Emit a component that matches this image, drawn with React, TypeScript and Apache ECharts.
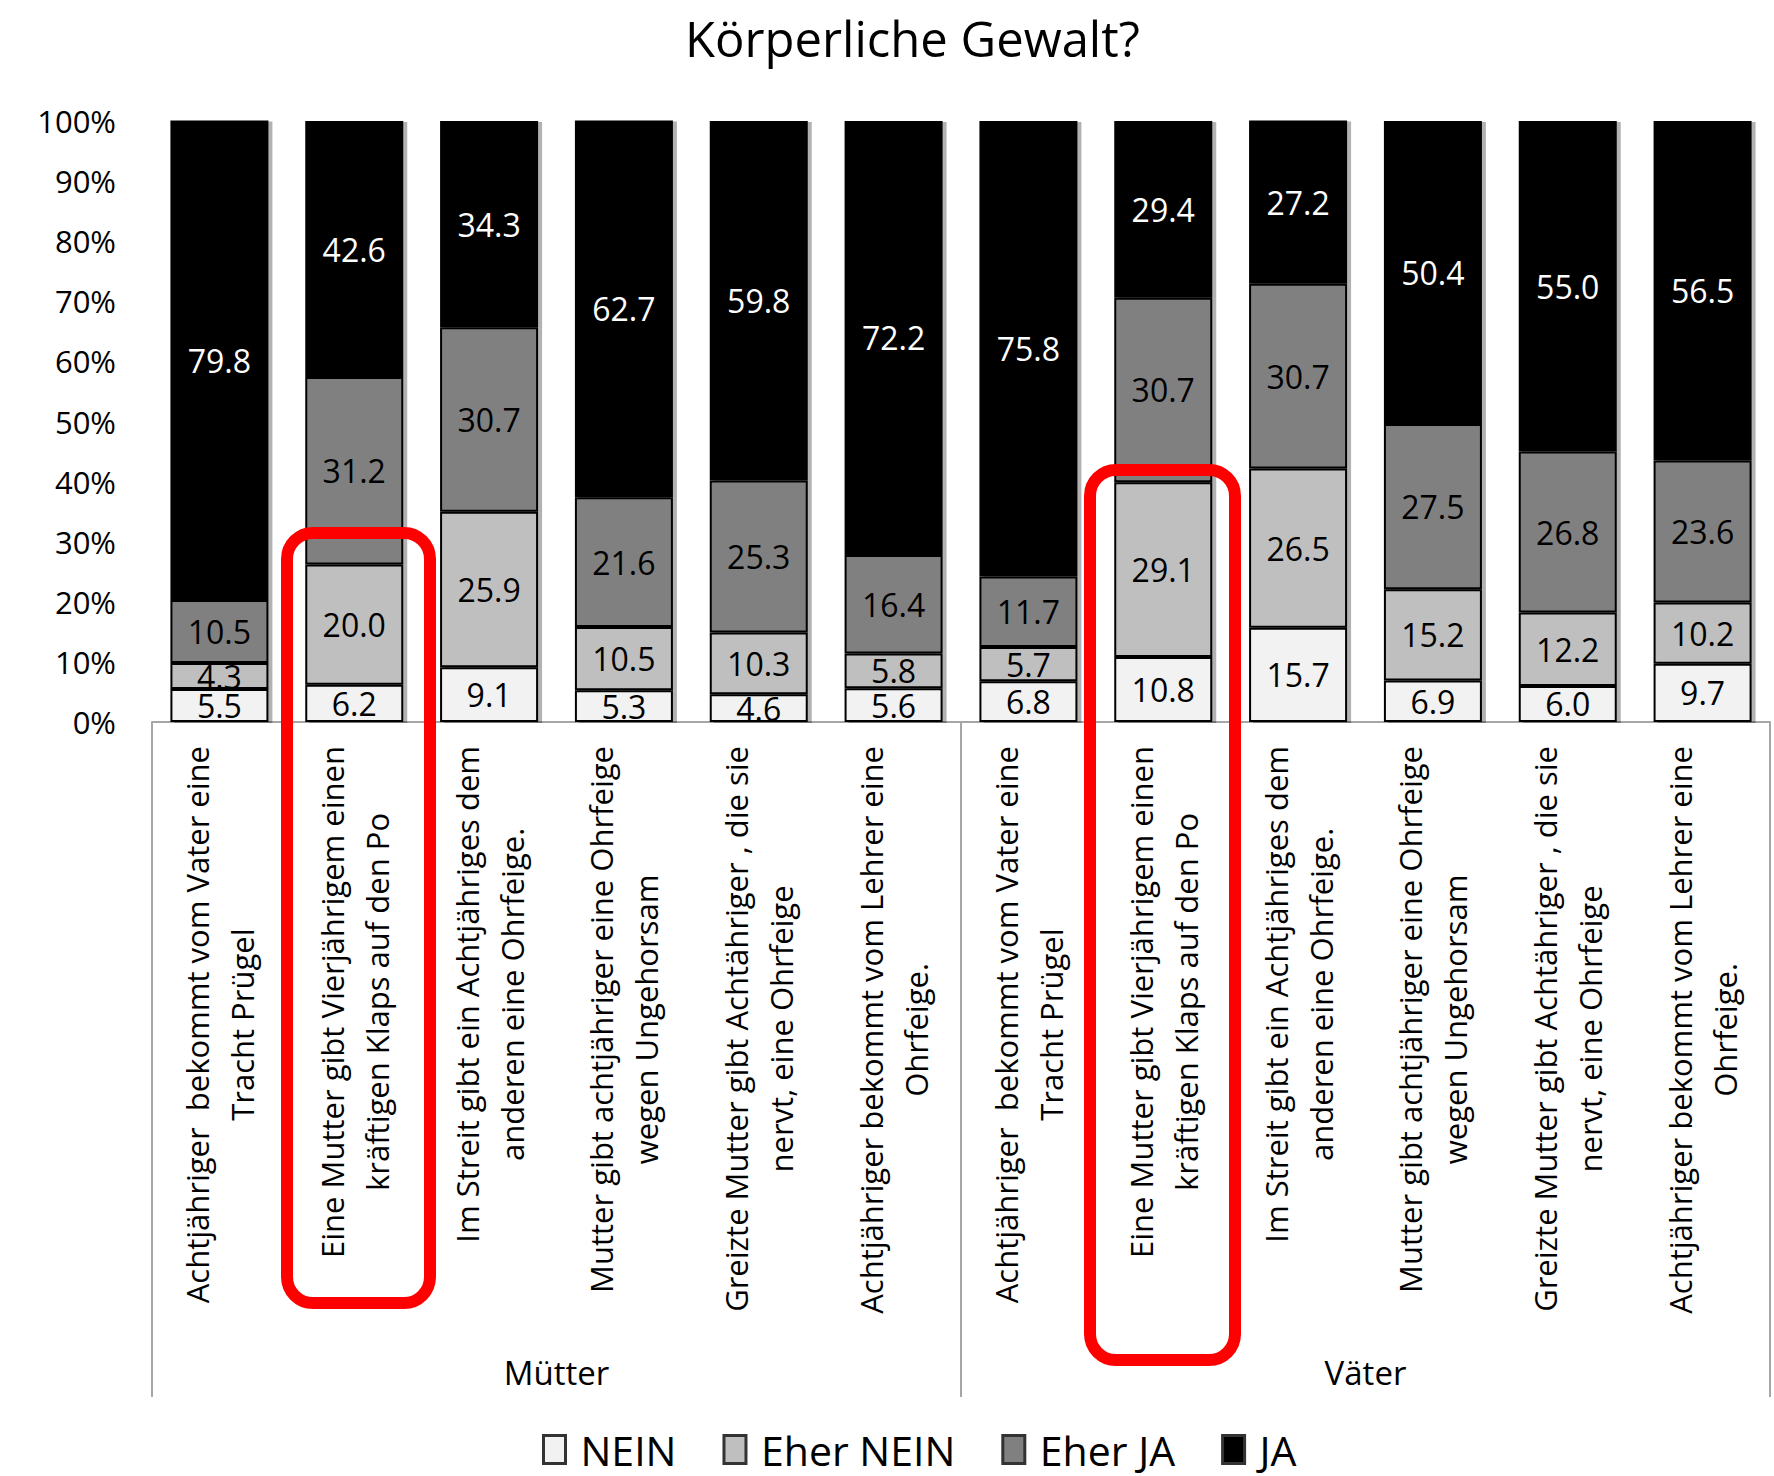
import React, { useEffect, useRef } from "react";
import * as echarts from "echarts";

const title = "Körperliche Gewalt?";
const itemLabels = [
  "Achtjähriger  bekommt vom Vater eine\nTracht Prügel",
  "Eine Mutter gibt Vierjährigem einen\nkräftigen Klaps auf den Po",
  "Im Streit gibt ein Achtjähriges dem\nanderen eine Ohrfeige.",
  "Mutter gibt achtjähriger eine Ohrfeige\nwegen Ungehorsam",
  "Greizte Mutter gibt Achtähriger , die sie\nnervt, eine Ohrfeige",
  "Achtjähriger bekommt vom Lehrer eine\nOhrfeige.",
];
const groups = ["Mütter", "Väter"];
const categories = [...itemLabels, ...itemLabels];

const seriesNames = ["NEIN", "Eher NEIN", "Eher JA", "JA"];
const nein = [5.5, 6.2, 9.1, 5.3, 4.6, 5.6, 6.8, 10.8, 15.7, 6.9, 6.0, 9.7];
const eherNein = [4.3, 20.0, 25.9, 10.5, 10.3, 5.8, 5.7, 29.1, 26.5, 15.2, 12.2, 10.2];
const eherJa = [10.5, 31.2, 30.7, 21.6, 25.3, 16.4, 11.7, 30.7, 30.7, 27.5, 26.8, 23.6];
const ja = [79.8, 42.6, 34.3, 62.7, 59.8, 72.2, 75.8, 29.4, 27.2, 50.4, 55.0, 56.5];
const seriesValues = [nein, eherNein, eherJa, ja];
const seriesColors = ["#f2f2f2", "#bfbfbf", "#808080", "#000000"];
const labelColors = ["#000", "#000", "#000", "#fff"];

const FONT = "Open Sans";

export default function App() {
  const ref = useRef<HTMLDivElement>(null);
  useEffect(() => {
    if (!ref.current) return;
    const chart = echarts.init(ref.current, undefined, { renderer: "svg" });
    chart.setOption({
      animation: false,
      backgroundColor: "#ffffff",
      textStyle: { fontFamily: FONT },
      title: {
        text: title,
        left: 680,
        top: 8,
        textStyle: { fontFamily: FONT, fontSize: 49, fontWeight: "normal", color: "#000" },
      },
      legend: {
        data: seriesNames,
        left: 537,
        top: 1424,
        icon: "rect",
        itemWidth: 22,
        itemHeight: 28,
        itemGap: 46,
        itemStyle: { borderColor: "#333", borderWidth: 3 },
        textStyle: {
          fontFamily: FONT,
          fontSize: 41,
          lineHeight: 40,
          color: "#000",
          padding: [0, 0, 0, 10],
        },
      },
      grid: { left: 152, right: 4, top: 121, bottom: 754, containLabel: false },
      xAxis: [
        {
          type: "category",
          data: categories,
          axisLine: { show: true, lineStyle: { color: "#a6a6a6", width: 2 } },
          axisTick: { show: false },
          axisLabel: {
            interval: 0,
            rotate: 90,
            margin: 24,
            color: "#000",
            formatter: (v: string) => v.split("\n").map((l) => `{c|${l}}`).join("\n"),
            rich: {
              c: { align: "center", fontFamily: FONT, fontSize: 31, lineHeight: 45, color: "#000" },
            },
          },
        },
        {
          type: "category",
          data: groups,
          position: "bottom",
          axisLine: { show: false },
          axisTick: { show: true, length: 675, interval: 0, lineStyle: { color: "#a6a6a6", width: 2 } },
          axisLabel: { margin: 634, color: "#000", fontFamily: FONT, fontSize: 33 },
        },
      ],
      yAxis: {
        type: "value",
        min: 0,
        max: 100,
        interval: 10,
        axisLine: { show: false },
        axisTick: { show: false },
        splitLine: { show: false },
        axisLabel: { formatter: "{value}%", color: "#000", fontFamily: FONT, fontSize: 31, margin: 36 },
      },
      series: seriesNames.map((name, i) => ({
        name,
        type: "bar",
        stack: "total",
        barWidth: 98,
        xAxisIndex: 0,
        data: seriesValues[i],
        itemStyle: {
          color: seriesColors[i],
          borderColor: "#000",
          borderWidth: 2,
          shadowColor: "rgba(0,0,0,0.3)",
          shadowOffsetX: 4,
          shadowOffsetY: 1,
          shadowBlur: 1,
        },
        label: {
          show: true,
          position: "inside",
          color: labelColors[i],
          fontFamily: FONT,
          fontSize: 32,
          formatter: (p: any) => Number(p.value).toFixed(1),
        },
      })),
      graphic: [
        {
          type: "rect",
          shape: { x: 287, y: 533, width: 143, height: 770, r: 26 },
          style: { fill: "none", stroke: "#ff0000", lineWidth: 12 },
          z: 100,
        },
        {
          type: "rect",
          shape: { x: 1090, y: 470, width: 145, height: 890, r: 26 },
          style: { fill: "none", stroke: "#ff0000", lineWidth: 12 },
          z: 100,
        },
      ],
    });
    return () => chart.dispose();
  }, []);
  return (
    <div
      ref={ref}
      style={{ position: "fixed", left: 0, top: 0, width: 1774, height: 1476, background: "#fff" }}
    />
  );
}
